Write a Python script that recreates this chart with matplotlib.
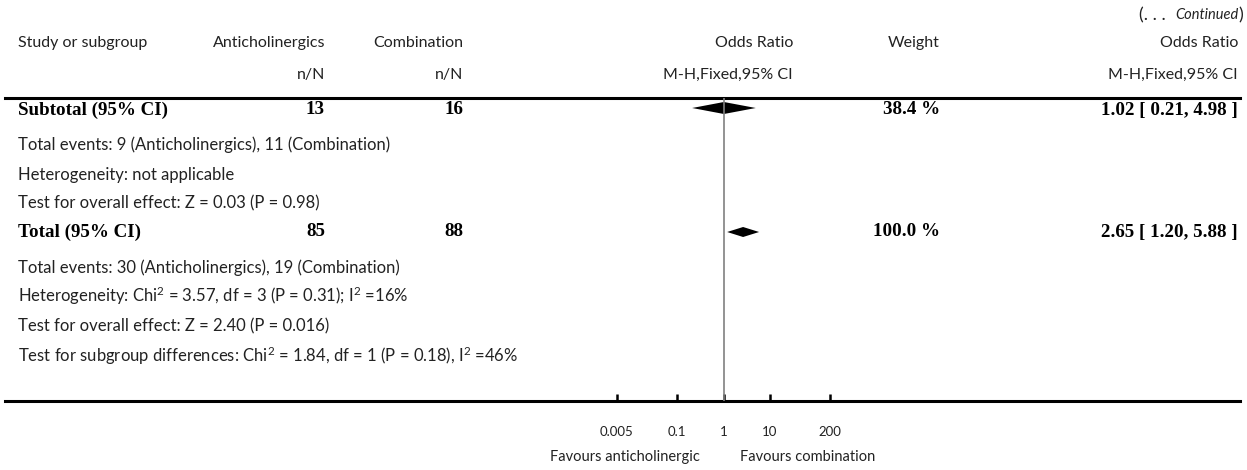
import matplotlib
matplotlib.use("Agg")
import matplotlib.pyplot as plt
from matplotlib.lines import Line2D

plt.rcParams["mathtext.fontset"] = "custom"
plt.rcParams["mathtext.rm"] = "Lato"
plt.rcParams["mathtext.it"] = "Lato:italic"

# data
rows = ["Subtotal (95% CI)", "Total (95% CI)"]
n_anti = [13, 85]
n_comb = [16, 88]
weights = ["38.4 %", "100.0 %"]
or_est = [1.02, 2.65]
or_lo = [0.21, 1.20]
or_hi = [4.98, 5.88]
notes_sub = ["Total events: 9 (Anticholinergics), 11 (Combination)",
             "Heterogeneity: not applicable",
             "Test for overall effect: Z = 0.03 (P = 0.98)"]
notes_tot = ["Total events: 30 (Anticholinergics), 19 (Combination)",
             r"Heterogeneity: Chi$^\mathrm{2}$ = 3.57, df = 3 (P = 0.31); I$^\mathrm{2}$ =16%",
             "Test for overall effect: Z = 2.40 (P = 0.016)",
             r"Test for subgroup differences: Chi$^\mathrm{2}$ = 1.84, df = 1 (P = 0.18), I$^\mathrm{2}$ =46%"]
ticks = [0.005, 0.1, 1, 10, 200]
tick_labels = ["0.005", "0.1", "1", "10", "200"]
favours = ["Favours anticholinergic", "Favours combination"]

W, H = 1247, 470
sans = ["Lato", "DejaVu Sans"]
serif = ["Liberation Serif", "DejaVu Serif"]
fs = 11.5
nfs = 12
bfs = 13.7
col = "#222222"

fig = plt.figure(figsize=(W / 100, H / 100), dpi=100)
rend = fig.canvas.get_renderer()

# text layer in pixel coords
tx = fig.add_axes([0, 0, 1, 1])
tx.set_xlim(0, W)
tx.set_ylim(H, 0)
tx.axis("off")


def t(x, y, s, ha="left", bold=False, size=None, **kw):
    if bold:
        return tx.text(x, y, s, ha=ha, va="center", fontsize=bfs,
                       family=serif, fontweight="bold", color="black", **kw)
    return tx.text(x, y, s, ha=ha, va="center", fontsize=size or fs,
                   family=sans, color=col, **kw)


# "(. . . Continued)" built right to left
x = 1243
for s, style, size in [(")", "normal", 13), ("Continued", "italic", 10.5),
                       ("(. . .  ", "normal", 13)]:
    tt = tx.text(x, 15, s, ha="right", va="center", fontsize=size,
                 family=sans, style=style, color=col)
    x -= tt.get_window_extent(rend).width

# header
t(18, 43, "Study or subgroup")
t(325, 43, "Anticholinergics", ha="right")
t(463, 43, "Combination", ha="right")
t(793, 43, "Odds Ratio", ha="right")
t(940, 43, "Weight", ha="right")
t(1238, 43, "Odds Ratio", ha="right")
t(325, 75, "n/N", ha="right")
t(463, 75, "n/N", ha="right")
t(793, 75, "M-H,Fixed,95% CI", ha="right")
t(1238, 75, "M-H,Fixed,95% CI", ha="right")

tx.add_line(Line2D([5, 1240], [98, 98], color="black", lw=2.2))
tx.add_line(Line2D([5, 1240], [401, 401], color="black", lw=2.2))

row_y = [110, 232]
dia_y = [108, 232]
dia_h = [6, 5]
note_y = [[145, 175, 203], [268, 296, 326, 356]]
for i, lab in enumerate(rows):
    y = row_y[i]
    t(18, y, lab, bold=True)
    t(325, y, str(n_anti[i]), ha="right", bold=True)
    t(463, y, str(n_comb[i]), ha="right", bold=True)
    t(940, y, weights[i], ha="right", bold=True)
    t(1238, y, "%.2f [ %.2f, %.2f ]" % (or_est[i], or_lo[i], or_hi[i]),
      ha="right", bold=True)
for ys, notes in zip(note_y, [notes_sub, notes_tot]):
    for y, s in zip(ys, notes):
        t(18, y, s, size=nfs)

t(700, 457, favours[0], ha="right", size=10.5)
t(740, 457, favours[1], ha="left", size=10.5)

# forest axis
top, bot = 98, 401
ax = fig.add_axes([617 / W, (H - bot) / H, 213 / W, (bot - top) / H])
ax.set_xscale("log")
ax.set_xlim(0.005, 200)
ax.set_ylim(bot, top)
ax.patch.set_alpha(0)
for s in ax.spines.values():
    s.set_visible(False)
ax.axvline(1, color="#808080", lw=1.2)
for i in range(len(rows)):
    y, h = dia_y[i], dia_h[i]
    ax.fill([or_lo[i], or_est[i], or_hi[i], or_est[i]], [y, y - h, y, y + h],
            color="black", lw=0)
ax.set_xticks(ticks)
ax.set_xticklabels(tick_labels)
ax.minorticks_off()
ax.set_yticks([])
ax.tick_params(axis="x", direction="in", length=5, width=1.8, pad=18,
               labelsize=9.5, colors="black", labelcolor=col)
for lab in ax.get_xticklabels():
    lab.set_family(sans)

fig.savefig("out.png", dpi=100)
